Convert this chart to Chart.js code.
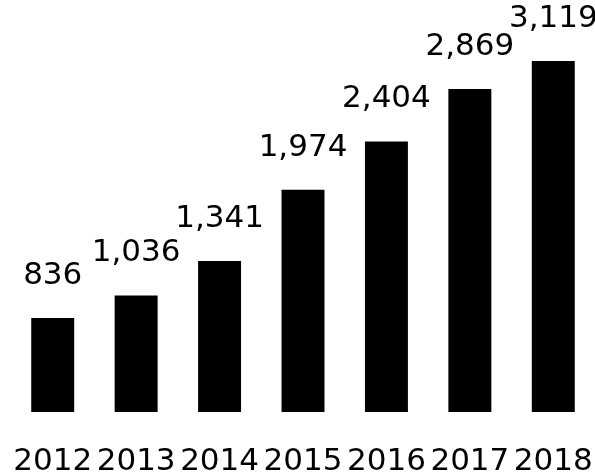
<!DOCTYPE html>
<html>
<head>
<meta charset="utf-8">
<script src="https://cdn.jsdelivr.net/npm/chart.js@4/dist/chart.umd.min.js"></script>
<style>
  html, body { margin: 0; padding: 0; background: #fff; }
  #wrap { width: 595px; height: 475px; }
</style>
</head>
<body>
<div id="wrap"><canvas id="barChart" width="595" height="475"></canvas></div>
<script>
const years = ['2012', '2013', '2014', '2015', '2016', '2017', '2018'];
const values = [836, 1036, 1341, 1974, 2404, 2869, 3119];

const FONT = '31px "DejaVu Sans", Verdana, sans-serif';

// value above each bar + year under each bar, placed via the chart's own scales
const barText = {
    id: 'barText',
    afterDatasetsDraw(chart) {
        const ctx = chart.ctx;
        const meta = chart.getDatasetMeta(0);
        const xScale = chart.scales.x;
        ctx.save();
        ctx.font = FONT;
        ctx.fillStyle = '#000';
        ctx.textAlign = 'center';
        ctx.textBaseline = 'alphabetic';
        meta.data.forEach((bar, i) => {
            ctx.fillText(values[i].toLocaleString('en-US'), bar.x, bar.y - 34);
        });
        years.forEach((y, i) => {
            ctx.fillText(y, xScale.getPixelForValue(i), chart.chartArea.bottom + 58);
        });
        ctx.restore();
    }
};

new Chart(document.getElementById('barChart'), {
    type: 'bar',
    data: {
        labels: years,
        datasets: [{
            data: values,
            backgroundColor: '#000',
            borderWidth: 0,
            categoryPercentage: 1,
            barPercentage: 0.515
        }]
    },
    options: {
        responsive: false,
        animation: false,
        layout: { padding: { left: 11, right: 0, top: 18, bottom: 63 } },
        plugins: {
            legend: { display: false },
            tooltip: { enabled: false }
        },
        scales: {
            x: { display: false },
            y: { display: false, min: 0, max: 3500 }
        }
    },
    plugins: [barText]
});
</script>
</body>
</html>
